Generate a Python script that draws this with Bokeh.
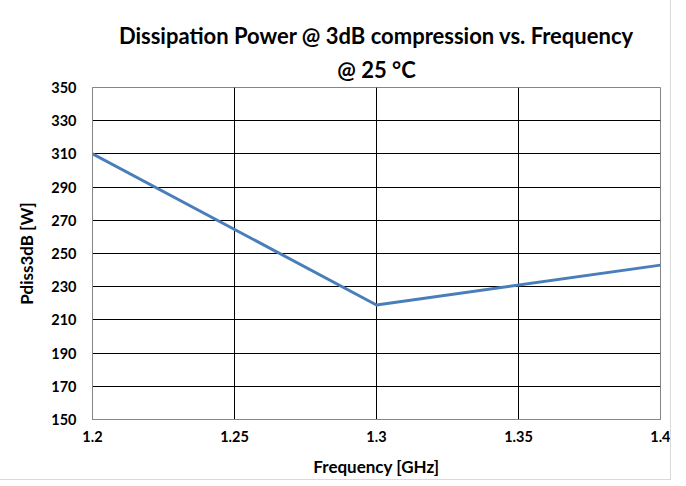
from bokeh.plotting import figure
from bokeh.models import FixedTicker, Range1d, Title
from bokeh.embed import file_html
from bokeh.resources import INLINE

freq = [1.2, 1.3, 1.4]
pdiss = [310, 219, 243]
x_ticks = [1.2, 1.25, 1.3, 1.35, 1.4]
x_tick_labels = ["1.2", "1.25", "1.3", "1.35", "1.4"]
y_ticks = list(range(150, 351, 20))
title_lines = ["Dissipation Power @ 3dB compression vs. Frequency", "@ 25 °C"]

FONT = "Lato"

p = figure(output_backend="svg", toolbar_location=None,
           width=670, height=470,
           frame_width=568, frame_height=332,
           min_border_left=92, min_border_right=10, min_border_top=87, min_border_bottom=51,
           x_range=Range1d(1.2, 1.4), y_range=Range1d(150, 350))
p.styles = {"outline": "1px solid #d9d9d9"}

p.line(freq, pdiss, line_color="#4a7ebb", line_width=3)

p.xaxis.ticker = FixedTicker(ticks=x_ticks)
p.xaxis.major_label_overrides = {t: l for t, l in zip(x_ticks, x_tick_labels)}
p.yaxis.ticker = FixedTicker(ticks=y_ticks)

for ax in (p.xaxis, p.yaxis):
    ax.major_label_text_font = FONT
    ax.major_label_text_font_style = "bold"
    ax.major_label_text_font_size = "14.5px"
    ax.major_label_text_color = "black"
    ax.axis_label_text_font = FONT
    ax.axis_label_text_font_style = "bold"
    ax.axis_label_text_font_size = "17px"
    ax.axis_label_text_color = "black"
    ax.major_tick_line_color = None
    ax.minor_tick_line_color = None
    ax.axis_line_color = "#868686"

p.xaxis.axis_label = "Frequency [GHz]"
p.yaxis.axis_label = "Pdiss3dB [W]"
p.xaxis.major_label_standoff = 5
p.yaxis.major_label_standoff = 10
p.xaxis.axis_label_standoff = 11
p.yaxis.axis_label_standoff = 11

p.xgrid.grid_line_color = "black"
p.ygrid.grid_line_color = "black"
p.xgrid.ticker = FixedTicker(ticks=x_ticks)
p.ygrid.ticker = FixedTicker(ticks=y_ticks)
p.outline_line_color = "#868686"

p.title = None
for txt, so in zip(reversed(title_lines), [10, 0]):
    p.add_layout(Title(text=txt, align="center", text_font=FONT, text_font_style="bold",
                       text_font_size="22px", text_color="black", standoff=so), "above")

open("out.html", "w").write(file_html(p, INLINE))
